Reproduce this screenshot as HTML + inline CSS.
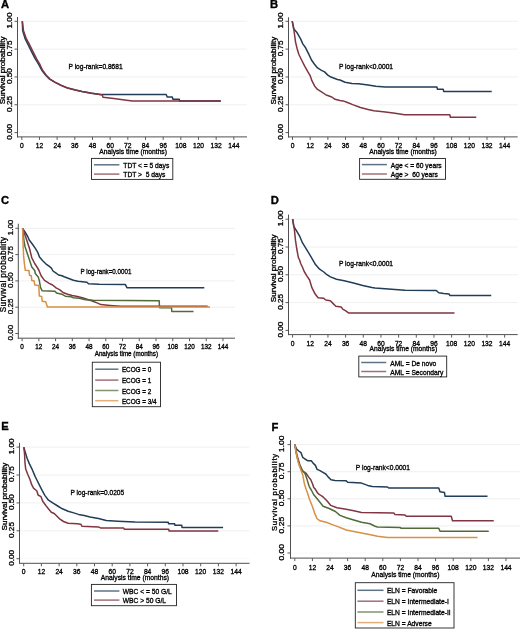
<!DOCTYPE html>
<html><head><meta charset="utf-8"><title>Kaplan-Meier survival curves</title>
<style>
html,body{margin:0;padding:0;background:#fff;}
body{width:520px;height:629px;overflow:hidden;}
svg{display:block;will-change:transform;}
text{font-family:"Liberation Sans",sans-serif;fill:#000;stroke:#000;stroke-width:0.3px;}
.L{font-weight:bold;font-size:11.2px;fill:#000;stroke:#000;stroke-width:0.35px;}
.g{stroke:#f0f0f0;stroke-width:1;}
.g0{stroke:#f8f8f8;stroke-width:1;}
.a{stroke:#505050;stroke-width:1;}
.t{stroke:#5a5a5a;stroke-width:1;}
.b{fill:none;stroke:#222;stroke-width:0.9;}
</style></head>
<body>
<svg width="520" height="629" viewBox="0 0 520 629">
<rect width="520" height="629" fill="#fff"/>
<text x="0.9" y="8.3" class="L">A</text>
<line x1="18" y1="21.3" x2="247" y2="21.3" class="g"/>
<line x1="18" y1="49.12" x2="247" y2="49.12" class="g"/>
<line x1="18" y1="76.95" x2="247" y2="76.95" class="g"/>
<line x1="18" y1="104.77" x2="247" y2="104.77" class="g"/>
<line x1="18" y1="132.6" x2="247" y2="132.6" class="g0"/>
<polyline points="22.3,21.2 22.7,30.7 25,38.4 28.1,44.7 31.3,51.1 35.1,58.7 38.4,63.8 41.8,70.2 45.7,75.3 49.6,79.1 54.9,82.2 61.3,85.4 67.6,88 75.4,90 82,91.5 90.8,93.1 100,94.4 166.2,94.4 167.2,97 172.3,97 172.8,99.2 179.2,99.2 179.7,100.9 220.8,100.9" fill="none" stroke="#213d58" stroke-width="1.5" stroke-linejoin="round"/>
<polyline points="22.3,21.2 23.5,30.7 26.2,38.4 29.5,44.7 32.7,51.1 36.5,58.7 39.6,63.8 42.6,70.2 46.3,75.3 50,79.1 55,82.3 61.3,85.5 67.6,88.1 75.4,90.1 82,91.6 90.8,93.2 100,94.5 102.3,95 103,97.2 113.8,98.5 124.6,100 132.3,101 134,101.1 220.8,101.1" fill="none" stroke="#7f3642" stroke-width="1.5" stroke-linejoin="round"/>
<line x1="17.5" y1="17" x2="17.5" y2="137.4" class="a"/>
<line x1="17" y1="136.9" x2="247" y2="136.9" class="a"/>
<line x1="14.5" y1="21.3" x2="17.5" y2="21.3" class="t"/>
<text transform="translate(12.37,20.5) scale(1,1.18) rotate(-90)" text-anchor="middle" font-size="6.9">1.00</text>
<line x1="14.5" y1="49.12" x2="17.5" y2="49.12" class="t"/>
<text transform="translate(12.37,48.33) scale(1,1.18) rotate(-90)" text-anchor="middle" font-size="6.9">0.75</text>
<line x1="14.5" y1="76.95" x2="17.5" y2="76.95" class="t"/>
<text transform="translate(12.37,76.15) scale(1,1.18) rotate(-90)" text-anchor="middle" font-size="6.9">0.50</text>
<line x1="14.5" y1="104.77" x2="17.5" y2="104.77" class="t"/>
<text transform="translate(12.37,103.97) scale(1,1.18) rotate(-90)" text-anchor="middle" font-size="6.9">0.25</text>
<line x1="14.5" y1="132.6" x2="17.5" y2="132.6" class="t"/>
<text transform="translate(12.37,131.8) scale(1,1.18) rotate(-90)" text-anchor="middle" font-size="6.9">0.00</text>
<text transform="translate(5.08,70.4) scale(1,1.17) rotate(-90)" text-anchor="middle" font-size="6.9">Survival probability</text>
<line x1="21.8" y1="136.9" x2="21.8" y2="139.9" class="t"/>
<text transform="translate(21.8,147.6) scale(1,1.06)" text-anchor="middle" font-size="6.7">0</text>
<line x1="39.47" y1="136.9" x2="39.47" y2="139.9" class="t"/>
<text transform="translate(39.47,147.6) scale(1,1.06)" text-anchor="middle" font-size="6.7">12</text>
<line x1="57.14" y1="136.9" x2="57.14" y2="139.9" class="t"/>
<text transform="translate(57.14,147.6) scale(1,1.06)" text-anchor="middle" font-size="6.7">24</text>
<line x1="74.81" y1="136.9" x2="74.81" y2="139.9" class="t"/>
<text transform="translate(74.81,147.6) scale(1,1.06)" text-anchor="middle" font-size="6.7">36</text>
<line x1="92.48" y1="136.9" x2="92.48" y2="139.9" class="t"/>
<text transform="translate(92.48,147.6) scale(1,1.06)" text-anchor="middle" font-size="6.7">48</text>
<line x1="110.15" y1="136.9" x2="110.15" y2="139.9" class="t"/>
<text transform="translate(110.15,147.6) scale(1,1.06)" text-anchor="middle" font-size="6.7">60</text>
<line x1="127.82" y1="136.9" x2="127.82" y2="139.9" class="t"/>
<text transform="translate(127.82,147.6) scale(1,1.06)" text-anchor="middle" font-size="6.7">72</text>
<line x1="145.49" y1="136.9" x2="145.49" y2="139.9" class="t"/>
<text transform="translate(145.49,147.6) scale(1,1.06)" text-anchor="middle" font-size="6.7">84</text>
<line x1="163.16" y1="136.9" x2="163.16" y2="139.9" class="t"/>
<text transform="translate(163.16,147.6) scale(1,1.06)" text-anchor="middle" font-size="6.7">96</text>
<line x1="180.83" y1="136.9" x2="180.83" y2="139.9" class="t"/>
<text transform="translate(180.83,147.6) scale(1,1.06)" text-anchor="middle" font-size="6.7">108</text>
<line x1="198.5" y1="136.9" x2="198.5" y2="139.9" class="t"/>
<text transform="translate(198.5,147.6) scale(1,1.06)" text-anchor="middle" font-size="6.7">120</text>
<line x1="216.17" y1="136.9" x2="216.17" y2="139.9" class="t"/>
<text transform="translate(216.17,147.6) scale(1,1.06)" text-anchor="middle" font-size="6.7">132</text>
<line x1="233.84" y1="136.9" x2="233.84" y2="139.9" class="t"/>
<text transform="translate(233.84,147.6) scale(1,1.06)" text-anchor="middle" font-size="6.7">144</text>
<text transform="translate(99.3,153.7) scale(1,1)" font-size="6.7">Analysis time (months)</text>
<text transform="translate(68.5,68.9) scale(0.99,1.07)" font-size="6.7">P log-rank=0.8681</text>
<rect x="91.5" y="158.4" width="81.3" height="21" class="b"/>
<line x1="94" y1="164.8" x2="119.4" y2="164.8" stroke="#213d58" stroke-width="1.5" opacity="0.72"/>
<text transform="translate(123.3,167.8) scale(1,1.07)" font-size="6.7" xml:space="preserve">TDT &lt; = 5 days</text>
<line x1="94" y1="174.1" x2="119.4" y2="174.1" stroke="#7f3642" stroke-width="1.5" opacity="0.72"/>
<text transform="translate(123.3,177.1) scale(1,1.07)" font-size="6.7" xml:space="preserve">TDT &gt;  5 days</text>
<text x="270.1" y="8.3" class="L">B</text>
<line x1="289" y1="21.3" x2="517.7" y2="21.3" class="g"/>
<line x1="289" y1="49.12" x2="517.7" y2="49.12" class="g"/>
<line x1="289" y1="76.95" x2="517.7" y2="76.95" class="g"/>
<line x1="289" y1="104.77" x2="517.7" y2="104.77" class="g"/>
<line x1="289" y1="132.6" x2="517.7" y2="132.6" class="g0"/>
<polyline points="292.2,21.1 293.9,28.9 296.7,32.2 300.6,38.9 302.8,43.9 305.6,47.8 308.4,53.4 311.5,60 314.3,64 317.5,67.9 321.5,70.3 324.6,71.9 327.8,75.1 330.2,76.7 334.2,78.3 337.4,79.5 340,80 345,82.3 352,83.4 358.5,83.8 368.1,85 375.8,86.3 385.4,86.9 436.9,86.9 437.5,89.2 443.2,89.2 443.7,91.4 491.7,91.4" fill="none" stroke="#213d58" stroke-width="1.5" stroke-linejoin="round"/>
<polyline points="292.2,21.1 293.9,30 295.6,42.3 297.2,49 298.9,54.5 301.6,60 304.8,66.4 307.9,71.9 310.3,75.9 311.9,80.7 314.7,86.2 317.5,89.4 321.5,91.8 326.2,95 331.8,97 335,99.3 340,100.5 343.1,100.9 347.5,102.5 352.7,104.6 360.4,107.5 368.1,109.4 373.8,110.8 385.4,111.9 395,113.3 404.6,114.7 449.8,114.7 450.4,117.2 476.3,117.2" fill="none" stroke="#7f3642" stroke-width="1.5" stroke-linejoin="round"/>
<line x1="288.5" y1="17.3" x2="288.5" y2="137.4" class="a"/>
<line x1="288" y1="136.9" x2="517.7" y2="136.9" class="a"/>
<line x1="285.5" y1="21.3" x2="288.5" y2="21.3" class="t"/>
<text transform="translate(283.17,20.5) scale(1,1.18) rotate(-90)" text-anchor="middle" font-size="6.9">1.00</text>
<line x1="285.5" y1="49.12" x2="288.5" y2="49.12" class="t"/>
<text transform="translate(283.17,48.33) scale(1,1.18) rotate(-90)" text-anchor="middle" font-size="6.9">0.75</text>
<line x1="285.5" y1="76.95" x2="288.5" y2="76.95" class="t"/>
<text transform="translate(283.17,76.15) scale(1,1.18) rotate(-90)" text-anchor="middle" font-size="6.9">0.50</text>
<line x1="285.5" y1="104.77" x2="288.5" y2="104.77" class="t"/>
<text transform="translate(283.17,103.97) scale(1,1.18) rotate(-90)" text-anchor="middle" font-size="6.9">0.25</text>
<line x1="285.5" y1="132.6" x2="288.5" y2="132.6" class="t"/>
<text transform="translate(283.17,131.8) scale(1,1.18) rotate(-90)" text-anchor="middle" font-size="6.9">0.00</text>
<text transform="translate(276.48,70.6) scale(1,1.17) rotate(-90)" text-anchor="middle" font-size="6.9">Survival probability</text>
<line x1="292.5" y1="136.9" x2="292.5" y2="139.9" class="t"/>
<text transform="translate(292.5,147.6) scale(1,1.1)" text-anchor="middle" font-size="6.7">0</text>
<line x1="310.18" y1="136.9" x2="310.18" y2="139.9" class="t"/>
<text transform="translate(310.18,147.6) scale(1,1.1)" text-anchor="middle" font-size="6.7">12</text>
<line x1="327.86" y1="136.9" x2="327.86" y2="139.9" class="t"/>
<text transform="translate(327.86,147.6) scale(1,1.1)" text-anchor="middle" font-size="6.7">24</text>
<line x1="345.54" y1="136.9" x2="345.54" y2="139.9" class="t"/>
<text transform="translate(345.54,147.6) scale(1,1.1)" text-anchor="middle" font-size="6.7">36</text>
<line x1="363.22" y1="136.9" x2="363.22" y2="139.9" class="t"/>
<text transform="translate(363.22,147.6) scale(1,1.1)" text-anchor="middle" font-size="6.7">48</text>
<line x1="380.9" y1="136.9" x2="380.9" y2="139.9" class="t"/>
<text transform="translate(380.9,147.6) scale(1,1.1)" text-anchor="middle" font-size="6.7">60</text>
<line x1="398.58" y1="136.9" x2="398.58" y2="139.9" class="t"/>
<text transform="translate(398.58,147.6) scale(1,1.1)" text-anchor="middle" font-size="6.7">72</text>
<line x1="416.26" y1="136.9" x2="416.26" y2="139.9" class="t"/>
<text transform="translate(416.26,147.6) scale(1,1.1)" text-anchor="middle" font-size="6.7">84</text>
<line x1="433.94" y1="136.9" x2="433.94" y2="139.9" class="t"/>
<text transform="translate(433.94,147.6) scale(1,1.1)" text-anchor="middle" font-size="6.7">96</text>
<line x1="451.62" y1="136.9" x2="451.62" y2="139.9" class="t"/>
<text transform="translate(451.62,147.6) scale(1,1.1)" text-anchor="middle" font-size="6.7">108</text>
<line x1="469.3" y1="136.9" x2="469.3" y2="139.9" class="t"/>
<text transform="translate(469.3,147.6) scale(1,1.1)" text-anchor="middle" font-size="6.7">120</text>
<line x1="486.98" y1="136.9" x2="486.98" y2="139.9" class="t"/>
<text transform="translate(486.98,147.6) scale(1,1.1)" text-anchor="middle" font-size="6.7">132</text>
<line x1="504.66" y1="136.9" x2="504.66" y2="139.9" class="t"/>
<text transform="translate(504.66,147.6) scale(1,1.1)" text-anchor="middle" font-size="6.7">144</text>
<text transform="translate(369.2,153.7) scale(1,1)" font-size="6.7">Analysis time (months)</text>
<text transform="translate(338.9,68.9) scale(0.99,1.07)" font-size="6.7">P log-rank&lt;0.0001</text>
<rect x="359.6" y="158.5" width="85.9" height="20.8" class="b"/>
<line x1="361.9" y1="164.6" x2="386.9" y2="164.6" stroke="#213d58" stroke-width="1.5" opacity="0.72"/>
<text transform="translate(390.8,167.6) scale(1,1.07)" font-size="6.7" xml:space="preserve">Age &lt; = 60 years</text>
<line x1="361.9" y1="174" x2="386.9" y2="174" stroke="#7f3642" stroke-width="1.5" opacity="0.72"/>
<text transform="translate(390.8,177) scale(1,1.07)" font-size="6.7" xml:space="preserve">Age &gt;  60 years</text>
<text x="0.9" y="203.6" class="L">C</text>
<line x1="18.8" y1="228.3" x2="235" y2="228.3" class="g"/>
<line x1="18.8" y1="254.6" x2="235" y2="254.6" class="g"/>
<line x1="18.8" y1="280.9" x2="235" y2="280.9" class="g"/>
<line x1="18.8" y1="307.2" x2="235" y2="307.2" class="g"/>
<line x1="18.8" y1="333.5" x2="235" y2="333.5" class="g0"/>
<polyline points="22.6,228.3 25.3,232.4 27.7,236.5 29.2,240 32.3,244 35.5,248.7 37.9,252.7 39.5,257.1 42.7,260.7 45.8,263.8 49,266.2 51.4,268.2 53,271 55.4,272.6 58.6,275 62,275.8 64.2,276.8 68.8,278.5 73.4,280.3 78,281.2 86.9,282.3 88.5,283.8 99.2,284.3 125.4,284.6 126.9,287.7 204.3,287.7" fill="none" stroke="#213d58" stroke-width="1.5" stroke-linejoin="round"/>
<polyline points="22.6,228.3 24.9,234.7 27.2,241.6 29.5,248.5 31.8,257.8 34.7,263.5 37,267 38.8,270 41.1,275.8 44.5,280.4 49.2,283.3 52.6,285 56.1,287.9 59.5,289.6 63,292.5 67.6,294.2 72.2,295.4 76.2,296.2 82.3,297.7 91.5,300.8 97.7,303.1 100.8,304.6 110,305.4 120.8,306.2 207.7,306.2" fill="none" stroke="#7f3642" stroke-width="1.5" stroke-linejoin="round"/>
<polyline points="22.6,228.3 23.8,239.3 24.9,246.2 27.2,253.2 29.5,260.1 31.8,267 34.7,270.5 35.3,273.5 38.2,276.9 39.3,280.4 40.5,287.3 42.2,290.8 54.9,291.3 56.7,293.1 61.8,294.2 65.3,296.2 71.1,296.8 73.4,297.8 79.2,298.3 85.4,299.7 93.1,300.3 159.2,300.8 159.5,307.7 171.5,307.7 171.8,311.5 193.5,311.5" fill="none" stroke="#506b38" stroke-width="1.5" stroke-linejoin="round"/>
<polyline points="22.6,228.3 23.1,245 23.6,255.9 24.4,263.8 25.3,270.3 29,270.6 29.5,275.2 31.3,275.8 31.8,280.4 34.2,281 34.7,285 38.8,285.6 39.3,296 41.7,296.5 42.2,301.2 45.7,301.7 47.4,306.9 210,306.9" fill="none" stroke="#d98f45" stroke-width="1.5" stroke-linejoin="round"/>
<line x1="18.3" y1="223.7" x2="18.3" y2="338.7" class="a"/>
<line x1="17.8" y1="338.2" x2="235" y2="338.2" class="a"/>
<line x1="15.3" y1="228.3" x2="18.3" y2="228.3" class="t"/>
<text transform="translate(12.76,227.5) scale(1,1) rotate(-90)" text-anchor="middle" font-size="8">1.00</text>
<line x1="15.3" y1="254.6" x2="18.3" y2="254.6" class="t"/>
<text transform="translate(12.76,253.8) scale(1,1) rotate(-90)" text-anchor="middle" font-size="8">0.75</text>
<line x1="15.3" y1="280.9" x2="18.3" y2="280.9" class="t"/>
<text transform="translate(12.76,280.1) scale(1,1) rotate(-90)" text-anchor="middle" font-size="8">0.50</text>
<line x1="15.3" y1="307.2" x2="18.3" y2="307.2" class="t"/>
<text transform="translate(12.76,306.4) scale(1,1) rotate(-90)" text-anchor="middle" font-size="8">0.25</text>
<line x1="15.3" y1="333.5" x2="18.3" y2="333.5" class="t"/>
<text transform="translate(12.76,332.7) scale(1,1) rotate(-90)" text-anchor="middle" font-size="8">0.00</text>
<text transform="translate(5.85,274.4) scale(1,1) rotate(-90)" text-anchor="middle" font-size="8.2" letter-spacing="0.36">Survival probability</text>
<line x1="22.1" y1="338.2" x2="22.1" y2="341.2" class="t"/>
<text transform="translate(22.1,349.2) scale(1,1.14)" text-anchor="middle" font-size="6.35">0</text>
<line x1="38.84" y1="338.2" x2="38.84" y2="341.2" class="t"/>
<text transform="translate(38.84,349.2) scale(1,1.14)" text-anchor="middle" font-size="6.35">12</text>
<line x1="55.58" y1="338.2" x2="55.58" y2="341.2" class="t"/>
<text transform="translate(55.58,349.2) scale(1,1.14)" text-anchor="middle" font-size="6.35">24</text>
<line x1="72.32" y1="338.2" x2="72.32" y2="341.2" class="t"/>
<text transform="translate(72.32,349.2) scale(1,1.14)" text-anchor="middle" font-size="6.35">36</text>
<line x1="89.06" y1="338.2" x2="89.06" y2="341.2" class="t"/>
<text transform="translate(89.06,349.2) scale(1,1.14)" text-anchor="middle" font-size="6.35">48</text>
<line x1="105.8" y1="338.2" x2="105.8" y2="341.2" class="t"/>
<text transform="translate(105.8,349.2) scale(1,1.14)" text-anchor="middle" font-size="6.35">60</text>
<line x1="122.54" y1="338.2" x2="122.54" y2="341.2" class="t"/>
<text transform="translate(122.54,349.2) scale(1,1.14)" text-anchor="middle" font-size="6.35">72</text>
<line x1="139.28" y1="338.2" x2="139.28" y2="341.2" class="t"/>
<text transform="translate(139.28,349.2) scale(1,1.14)" text-anchor="middle" font-size="6.35">84</text>
<line x1="156.02" y1="338.2" x2="156.02" y2="341.2" class="t"/>
<text transform="translate(156.02,349.2) scale(1,1.14)" text-anchor="middle" font-size="6.35">96</text>
<line x1="172.76" y1="338.2" x2="172.76" y2="341.2" class="t"/>
<text transform="translate(172.76,349.2) scale(1,1.14)" text-anchor="middle" font-size="6.35">108</text>
<line x1="189.5" y1="338.2" x2="189.5" y2="341.2" class="t"/>
<text transform="translate(189.5,349.2) scale(1,1.14)" text-anchor="middle" font-size="6.35">120</text>
<line x1="206.24" y1="338.2" x2="206.24" y2="341.2" class="t"/>
<text transform="translate(206.24,349.2) scale(1,1.14)" text-anchor="middle" font-size="6.35">132</text>
<line x1="222.98" y1="338.2" x2="222.98" y2="341.2" class="t"/>
<text transform="translate(222.98,349.2) scale(1,1.14)" text-anchor="middle" font-size="6.35">144</text>
<text transform="translate(94.7,356.2) scale(0.99,1)" font-size="6.35">Analysis time (months)</text>
<text transform="translate(80.5,273.6) scale(0.98,1.1)" font-size="6.35">P log-rank=0.0001</text>
<rect x="92.3" y="362.2" width="68.2" height="44.5" class="b"/>
<line x1="95.2" y1="369.2" x2="118.4" y2="369.2" stroke="#213d58" stroke-width="1.5" opacity="0.72"/>
<text transform="translate(121.9,372.2) scale(1,1.1)" font-size="6.35" xml:space="preserve">ECOG = 0</text>
<line x1="95.2" y1="380.1" x2="118.4" y2="380.1" stroke="#7f3642" stroke-width="1.5" opacity="0.72"/>
<text transform="translate(121.9,383.1) scale(1,1.1)" font-size="6.35" xml:space="preserve">ECOG = 1</text>
<line x1="95.2" y1="390.5" x2="118.4" y2="390.5" stroke="#506b38" stroke-width="1.5" opacity="0.72"/>
<text transform="translate(121.9,393.5) scale(1,1.1)" font-size="6.35" xml:space="preserve">ECOG = 2</text>
<line x1="95.2" y1="400.7" x2="118.4" y2="400.7" stroke="#d98f45" stroke-width="1.5" opacity="0.72"/>
<text transform="translate(121.9,403.7) scale(1,1.1)" font-size="6.35" xml:space="preserve">ECOG = 3/4</text>
<text x="270.8" y="203.5" class="L">D</text>
<line x1="289" y1="219.2" x2="517.7" y2="219.2" class="g"/>
<line x1="289" y1="247" x2="517.7" y2="247" class="g"/>
<line x1="289" y1="274.8" x2="517.7" y2="274.8" class="g"/>
<line x1="289" y1="302.6" x2="517.7" y2="302.6" class="g"/>
<line x1="289" y1="330.4" x2="517.7" y2="330.4" class="g0"/>
<polyline points="292.6,219 293.8,226.5 296.7,231.2 299.5,235.8 302.4,242.7 305.3,247.3 308.8,253.1 312.2,258.8 315.5,264.6 319.6,269.2 323.8,272 325.8,273.8 330.4,276.9 336.5,279.2 344.2,280.8 353.5,283.1 362.7,285.4 371.9,287.5 375,288 385,288.75 395,289.5 405,290.25 436.25,290.5 438.75,292.8 443.75,293.6 449,294 450,295.6 491.25,295.6" fill="none" stroke="#213d58" stroke-width="1.5" stroke-linejoin="round"/>
<polyline points="292.6,219 294.3,228.8 295.5,240.4 296.7,248.5 298.4,257.7 299.6,260 300.7,263.5 302.7,267.7 304.2,271.5 306.5,275.4 309.6,280 311.9,287.7 315,293.8 318.1,297.7 323.5,298.2 325.8,300 330.4,300.8 332.7,303.1 335.8,306.2 341.2,306.9 342.7,309.2 345.8,310.8 348.8,313.1 454.5,313.1" fill="none" stroke="#7f3642" stroke-width="1.5" stroke-linejoin="round"/>
<line x1="288.5" y1="214.6" x2="288.5" y2="335.1" class="a"/>
<line x1="288" y1="334.6" x2="517.7" y2="334.6" class="a"/>
<line x1="285.5" y1="219.2" x2="288.5" y2="219.2" class="t"/>
<text transform="translate(282.87,218.4) scale(1,1.18) rotate(-90)" text-anchor="middle" font-size="6.9">1.00</text>
<line x1="285.5" y1="247" x2="288.5" y2="247" class="t"/>
<text transform="translate(282.87,246.2) scale(1,1.18) rotate(-90)" text-anchor="middle" font-size="6.9">0.75</text>
<line x1="285.5" y1="274.8" x2="288.5" y2="274.8" class="t"/>
<text transform="translate(282.87,274) scale(1,1.18) rotate(-90)" text-anchor="middle" font-size="6.9">0.50</text>
<line x1="285.5" y1="302.6" x2="288.5" y2="302.6" class="t"/>
<text transform="translate(282.87,301.8) scale(1,1.18) rotate(-90)" text-anchor="middle" font-size="6.9">0.25</text>
<line x1="285.5" y1="330.4" x2="288.5" y2="330.4" class="t"/>
<text transform="translate(282.87,329.6) scale(1,1.18) rotate(-90)" text-anchor="middle" font-size="6.9">0.00</text>
<text transform="translate(276.18,268.3) scale(1,1.17) rotate(-90)" text-anchor="middle" font-size="6.9">Survival probability</text>
<line x1="292.6" y1="334.6" x2="292.6" y2="337.6" class="t"/>
<text transform="translate(292.6,345.5) scale(1,1.08)" text-anchor="middle" font-size="6.7">0</text>
<line x1="310.27" y1="334.6" x2="310.27" y2="337.6" class="t"/>
<text transform="translate(310.27,345.5) scale(1,1.08)" text-anchor="middle" font-size="6.7">12</text>
<line x1="327.94" y1="334.6" x2="327.94" y2="337.6" class="t"/>
<text transform="translate(327.94,345.5) scale(1,1.08)" text-anchor="middle" font-size="6.7">24</text>
<line x1="345.61" y1="334.6" x2="345.61" y2="337.6" class="t"/>
<text transform="translate(345.61,345.5) scale(1,1.08)" text-anchor="middle" font-size="6.7">36</text>
<line x1="363.28" y1="334.6" x2="363.28" y2="337.6" class="t"/>
<text transform="translate(363.28,345.5) scale(1,1.08)" text-anchor="middle" font-size="6.7">48</text>
<line x1="380.95" y1="334.6" x2="380.95" y2="337.6" class="t"/>
<text transform="translate(380.95,345.5) scale(1,1.08)" text-anchor="middle" font-size="6.7">60</text>
<line x1="398.62" y1="334.6" x2="398.62" y2="337.6" class="t"/>
<text transform="translate(398.62,345.5) scale(1,1.08)" text-anchor="middle" font-size="6.7">72</text>
<line x1="416.29" y1="334.6" x2="416.29" y2="337.6" class="t"/>
<text transform="translate(416.29,345.5) scale(1,1.08)" text-anchor="middle" font-size="6.7">84</text>
<line x1="433.96" y1="334.6" x2="433.96" y2="337.6" class="t"/>
<text transform="translate(433.96,345.5) scale(1,1.08)" text-anchor="middle" font-size="6.7">96</text>
<line x1="451.63" y1="334.6" x2="451.63" y2="337.6" class="t"/>
<text transform="translate(451.63,345.5) scale(1,1.08)" text-anchor="middle" font-size="6.7">108</text>
<line x1="469.3" y1="334.6" x2="469.3" y2="337.6" class="t"/>
<text transform="translate(469.3,345.5) scale(1,1.08)" text-anchor="middle" font-size="6.7">120</text>
<line x1="486.97" y1="334.6" x2="486.97" y2="337.6" class="t"/>
<text transform="translate(486.97,345.5) scale(1,1.08)" text-anchor="middle" font-size="6.7">132</text>
<line x1="504.64" y1="334.6" x2="504.64" y2="337.6" class="t"/>
<text transform="translate(504.64,345.5) scale(1,1.08)" text-anchor="middle" font-size="6.7">144</text>
<text transform="translate(369.5,351) scale(1,1)" font-size="6.7">Analysis time (months)</text>
<text transform="translate(338.9,266.3) scale(0.99,1.07)" font-size="6.7">P log-rank&lt;0.0001</text>
<rect x="358.8" y="356.1" width="87.9" height="20.8" class="b"/>
<line x1="361.2" y1="362.5" x2="386.2" y2="362.5" stroke="#213d58" stroke-width="1.5" opacity="0.72"/>
<text transform="translate(390.3,365.5) scale(1,1.07)" font-size="6.7" xml:space="preserve">AML = De novo</text>
<line x1="361.2" y1="371.5" x2="386.2" y2="371.5" stroke="#7f3642" stroke-width="1.5" opacity="0.72"/>
<text transform="translate(390.3,374.5) scale(1,1.07)" font-size="6.7" xml:space="preserve">AML = Secondary</text>
<text x="1.2" y="430.2" class="L">E</text>
<line x1="20" y1="447.1" x2="249.6" y2="447.1" class="g"/>
<line x1="20" y1="475" x2="249.6" y2="475" class="g"/>
<line x1="20" y1="502.9" x2="249.6" y2="502.9" class="g"/>
<line x1="20" y1="530.8" x2="249.6" y2="530.8" class="g"/>
<line x1="20" y1="558.7" x2="249.6" y2="558.7" class="g0"/>
<polyline points="23.8,447.2 25.3,452.4 27.1,458.2 29.4,463.9 32.3,469.7 35.2,476.6 36.9,480 39.8,485.8 42.1,490.4 45,495.6 48.5,500.2 53.1,503.1 57.7,506 62.3,508.8 68.1,511.2 73.8,512.9 78.5,514.4 84.2,515.5 90,516.9 98.5,518.5 106.2,520.4 117.7,521.2 135,522.1 168.3,522.3 168.5,523.7 174.6,523.7 174.8,525.2 181.7,525.2 182,527.5 223.1,527.5" fill="none" stroke="#213d58" stroke-width="1.5" stroke-linejoin="round"/>
<polyline points="23.8,447.2 24.5,453.5 25,462.8 25.7,469.1 27.7,474.3 30,479.5 31.7,484.7 33.5,488.1 36.9,491 38.1,495 41,496.7 42.7,501.3 46.2,506 49,509.4 51.3,512.3 54.2,513.5 56.5,515.8 60,519.2 63.5,521.5 68.1,523.3 77.3,523.8 80.8,524.2 81.9,526.2 98.5,526.9 100.4,527.9 123.5,527.9 124.4,529.2 168.8,529.2 169,531 218.3,531" fill="none" stroke="#7f3642" stroke-width="1.5" stroke-linejoin="round"/>
<line x1="19.5" y1="442.9" x2="19.5" y2="563.8" class="a"/>
<line x1="19" y1="563.3" x2="249.6" y2="563.3" class="a"/>
<line x1="16.5" y1="447.1" x2="19.5" y2="447.1" class="t"/>
<text transform="translate(13.97,446.3) scale(1,1.18) rotate(-90)" text-anchor="middle" font-size="6.9">1.00</text>
<line x1="16.5" y1="475" x2="19.5" y2="475" class="t"/>
<text transform="translate(13.97,474.2) scale(1,1.18) rotate(-90)" text-anchor="middle" font-size="6.9">0.75</text>
<line x1="16.5" y1="502.9" x2="19.5" y2="502.9" class="t"/>
<text transform="translate(13.97,502.1) scale(1,1.18) rotate(-90)" text-anchor="middle" font-size="6.9">0.50</text>
<line x1="16.5" y1="530.8" x2="19.5" y2="530.8" class="t"/>
<text transform="translate(13.97,530) scale(1,1.18) rotate(-90)" text-anchor="middle" font-size="6.9">0.25</text>
<line x1="16.5" y1="558.7" x2="19.5" y2="558.7" class="t"/>
<text transform="translate(13.97,557.9) scale(1,1.18) rotate(-90)" text-anchor="middle" font-size="6.9">0.00</text>
<text transform="translate(7.48,496.6) scale(1,1.17) rotate(-90)" text-anchor="middle" font-size="6.9">Survival probability</text>
<line x1="23.7" y1="563.3" x2="23.7" y2="566.3" class="t"/>
<text transform="translate(23.7,573.8) scale(1,1.06)" text-anchor="middle" font-size="6.7">0</text>
<line x1="41.4" y1="563.3" x2="41.4" y2="566.3" class="t"/>
<text transform="translate(41.4,573.8) scale(1,1.06)" text-anchor="middle" font-size="6.7">12</text>
<line x1="59.1" y1="563.3" x2="59.1" y2="566.3" class="t"/>
<text transform="translate(59.1,573.8) scale(1,1.06)" text-anchor="middle" font-size="6.7">24</text>
<line x1="76.8" y1="563.3" x2="76.8" y2="566.3" class="t"/>
<text transform="translate(76.8,573.8) scale(1,1.06)" text-anchor="middle" font-size="6.7">36</text>
<line x1="94.5" y1="563.3" x2="94.5" y2="566.3" class="t"/>
<text transform="translate(94.5,573.8) scale(1,1.06)" text-anchor="middle" font-size="6.7">48</text>
<line x1="112.2" y1="563.3" x2="112.2" y2="566.3" class="t"/>
<text transform="translate(112.2,573.8) scale(1,1.06)" text-anchor="middle" font-size="6.7">60</text>
<line x1="129.9" y1="563.3" x2="129.9" y2="566.3" class="t"/>
<text transform="translate(129.9,573.8) scale(1,1.06)" text-anchor="middle" font-size="6.7">72</text>
<line x1="147.6" y1="563.3" x2="147.6" y2="566.3" class="t"/>
<text transform="translate(147.6,573.8) scale(1,1.06)" text-anchor="middle" font-size="6.7">84</text>
<line x1="165.3" y1="563.3" x2="165.3" y2="566.3" class="t"/>
<text transform="translate(165.3,573.8) scale(1,1.06)" text-anchor="middle" font-size="6.7">96</text>
<line x1="183" y1="563.3" x2="183" y2="566.3" class="t"/>
<text transform="translate(183,573.8) scale(1,1.06)" text-anchor="middle" font-size="6.7">108</text>
<line x1="200.7" y1="563.3" x2="200.7" y2="566.3" class="t"/>
<text transform="translate(200.7,573.8) scale(1,1.06)" text-anchor="middle" font-size="6.7">120</text>
<line x1="218.4" y1="563.3" x2="218.4" y2="566.3" class="t"/>
<text transform="translate(218.4,573.8) scale(1,1.06)" text-anchor="middle" font-size="6.7">132</text>
<line x1="236.1" y1="563.3" x2="236.1" y2="566.3" class="t"/>
<text transform="translate(236.1,573.8) scale(1,1.06)" text-anchor="middle" font-size="6.7">144</text>
<text transform="translate(100.8,579.7) scale(1.01,1)" font-size="6.7">Analysis time (months)</text>
<text transform="translate(70.5,495) scale(0.98,1.07)" font-size="6.7">P log-rank=0.0205</text>
<rect x="91.4" y="584.4" width="85.1" height="21.3" class="b"/>
<line x1="94" y1="591" x2="119.4" y2="591" stroke="#213d58" stroke-width="1.5" opacity="0.72"/>
<text transform="translate(122.7,594) scale(1,1.07)" font-size="6.7" xml:space="preserve">WBC &lt; = 50 G/L</text>
<line x1="94" y1="600.1" x2="119.4" y2="600.1" stroke="#7f3642" stroke-width="1.5" opacity="0.72"/>
<text transform="translate(122.7,603.1) scale(1,1.07)" font-size="6.7" xml:space="preserve">WBC &gt; 50 G/L</text>
<text x="271.4" y="430.5" class="L">F</text>
<line x1="291" y1="444.6" x2="521" y2="444.6" class="g"/>
<line x1="291" y1="471.7" x2="521" y2="471.7" class="g"/>
<line x1="291" y1="498.8" x2="521" y2="498.8" class="g"/>
<line x1="291" y1="525.9" x2="521" y2="525.9" class="g"/>
<line x1="291" y1="553" x2="521" y2="553" class="g0"/>
<polyline points="294.8,444.6 296.3,448.7 298.7,451 301,452.7 302.7,457.3 305,459 307.9,460.8 311.3,460.8 313.1,463.1 315.4,465.4 317.1,469.4 320,470.6 322.9,472.3 325.8,474 328.1,476.9 331,479.8 335,480.4 346.2,480.8 347.7,482.3 361.5,483.1 367.7,485.4 372.3,486.5 387.5,487 388.75,488 438.75,488 440,491.75 444.5,492.5 445,496.25 487.5,496.25" fill="none" stroke="#213d58" stroke-width="1.5" stroke-linejoin="round"/>
<polyline points="294.8,444.6 296.9,455 299.8,464.8 302.7,471.2 306.2,473.5 308.5,476.9 310.8,479.8 312.5,483.8 313.8,487.7 314.8,488.5 317.7,493.1 318.5,493.8 321.7,496 323.1,496.9 326.9,500.8 330.8,505.4 336.9,507.7 346.2,509.2 353.8,510.8 361.5,512.6 393.75,513 395,514.5 405,515 406.25,516.25 451.25,516.25 452.5,520.75 493.75,520.75" fill="none" stroke="#7f3642" stroke-width="1.5" stroke-linejoin="round"/>
<polyline points="294.8,444.6 296.9,456.2 299.2,464.2 302.1,470 305,473.5 307.1,479.6 309.1,486.3 311.3,490 313.6,494.5 318.4,500.2 323.1,506.2 329.2,508.5 335.4,511.5 340,515.4 346.2,517.7 353.8,520 361.5,522.3 370,523.75 375,526.25 377.5,527 400,527.5 401.25,528.25 438.75,528.25 440,531.25 488.75,531.25" fill="none" stroke="#506b38" stroke-width="1.5" stroke-linejoin="round"/>
<polyline points="294.8,444.6 296.3,453.8 298.1,461.9 300.4,468.8 302.7,474.6 304.4,483.8 306.2,489.4 307.9,494.2 309.4,499 310.8,502.5 312.3,506.2 314.6,513.1 316.9,518.5 320,520.8 326.2,522.3 332.3,524.6 338.5,526.9 346.2,530 353.8,531.5 361.5,533.1 369.2,534.6 377.5,536.25 387.5,537.5 477.5,537.5" fill="none" stroke="#d98f45" stroke-width="1.5" stroke-linejoin="round"/>
<line x1="290.5" y1="440.2" x2="290.5" y2="558.6" class="a"/>
<line x1="290" y1="558.1" x2="521" y2="558.1" class="a"/>
<line x1="287.5" y1="444.6" x2="290.5" y2="444.6" class="t"/>
<text transform="translate(284.09,443.8) scale(1,1.1) rotate(-90)" text-anchor="middle" font-size="7.8">1.00</text>
<line x1="287.5" y1="471.7" x2="290.5" y2="471.7" class="t"/>
<text transform="translate(284.09,470.9) scale(1,1.1) rotate(-90)" text-anchor="middle" font-size="7.8">0.75</text>
<line x1="287.5" y1="498.8" x2="290.5" y2="498.8" class="t"/>
<text transform="translate(284.09,498) scale(1,1.1) rotate(-90)" text-anchor="middle" font-size="7.8">0.50</text>
<line x1="287.5" y1="525.9" x2="290.5" y2="525.9" class="t"/>
<text transform="translate(284.09,525.1) scale(1,1.1) rotate(-90)" text-anchor="middle" font-size="7.8">0.25</text>
<line x1="287.5" y1="553" x2="290.5" y2="553" class="t"/>
<text transform="translate(284.09,552.2) scale(1,1.1) rotate(-90)" text-anchor="middle" font-size="7.8">0.00</text>
<text transform="translate(276.74,492.1) scale(1,1.01) rotate(-90)" text-anchor="middle" font-size="7.6" letter-spacing="0.66">Survival probability</text>
<line x1="294.8" y1="558.1" x2="294.8" y2="561.1" class="t"/>
<text transform="translate(294.8,569.5) scale(1,1.15)" text-anchor="middle" font-size="6.7">0</text>
<line x1="312.4" y1="558.1" x2="312.4" y2="561.1" class="t"/>
<text transform="translate(312.4,569.5) scale(1,1.15)" text-anchor="middle" font-size="6.7">12</text>
<line x1="330" y1="558.1" x2="330" y2="561.1" class="t"/>
<text transform="translate(330,569.5) scale(1,1.15)" text-anchor="middle" font-size="6.7">24</text>
<line x1="347.6" y1="558.1" x2="347.6" y2="561.1" class="t"/>
<text transform="translate(347.6,569.5) scale(1,1.15)" text-anchor="middle" font-size="6.7">36</text>
<line x1="365.2" y1="558.1" x2="365.2" y2="561.1" class="t"/>
<text transform="translate(365.2,569.5) scale(1,1.15)" text-anchor="middle" font-size="6.7">48</text>
<line x1="382.8" y1="558.1" x2="382.8" y2="561.1" class="t"/>
<text transform="translate(382.8,569.5) scale(1,1.15)" text-anchor="middle" font-size="6.7">60</text>
<line x1="400.4" y1="558.1" x2="400.4" y2="561.1" class="t"/>
<text transform="translate(400.4,569.5) scale(1,1.15)" text-anchor="middle" font-size="6.7">72</text>
<line x1="418" y1="558.1" x2="418" y2="561.1" class="t"/>
<text transform="translate(418,569.5) scale(1,1.15)" text-anchor="middle" font-size="6.7">84</text>
<line x1="435.6" y1="558.1" x2="435.6" y2="561.1" class="t"/>
<text transform="translate(435.6,569.5) scale(1,1.15)" text-anchor="middle" font-size="6.7">96</text>
<line x1="453.2" y1="558.1" x2="453.2" y2="561.1" class="t"/>
<text transform="translate(453.2,569.5) scale(1,1.15)" text-anchor="middle" font-size="6.7">108</text>
<line x1="470.8" y1="558.1" x2="470.8" y2="561.1" class="t"/>
<text transform="translate(470.8,569.5) scale(1,1.15)" text-anchor="middle" font-size="6.7">120</text>
<line x1="488.4" y1="558.1" x2="488.4" y2="561.1" class="t"/>
<text transform="translate(488.4,569.5) scale(1,1.15)" text-anchor="middle" font-size="6.7">132</text>
<line x1="506" y1="558.1" x2="506" y2="561.1" class="t"/>
<text transform="translate(506,569.5) scale(1,1.15)" text-anchor="middle" font-size="6.7">144</text>
<text transform="translate(371.2,576.5) scale(1.01,1)" font-size="6.7">Analysis time (months)</text>
<text transform="translate(355.8,469.7) scale(0.99,1.07)" font-size="6.7">P log-rank&lt;0.0001</text>
<rect x="355.3" y="582.7" width="98.7" height="45.3" class="b"/>
<line x1="357.4" y1="590.3" x2="383.5" y2="590.3" stroke="#213d58" stroke-width="1.5" opacity="0.72"/>
<text transform="translate(386.9,593.3) scale(1,1.07)" font-size="6.7" xml:space="preserve">ELN = Favorable</text>
<line x1="357.4" y1="601.2" x2="383.5" y2="601.2" stroke="#7f3642" stroke-width="1.5" opacity="0.72"/>
<text transform="translate(386.9,604.2) scale(1,1.07)" font-size="6.7" xml:space="preserve">ELN = Intermediate-I</text>
<line x1="357.4" y1="612" x2="383.5" y2="612" stroke="#506b38" stroke-width="1.5" opacity="0.72"/>
<text transform="translate(386.9,615) scale(1,1.07)" font-size="6.7" xml:space="preserve">ELN = Intermediate-II</text>
<line x1="357.4" y1="622.6" x2="383.5" y2="622.6" stroke="#d98f45" stroke-width="1.5" opacity="0.72"/>
<text transform="translate(386.9,625.6) scale(1,1.07)" font-size="6.7" xml:space="preserve">ELN = Adverse</text>
</svg>
</body></html>
